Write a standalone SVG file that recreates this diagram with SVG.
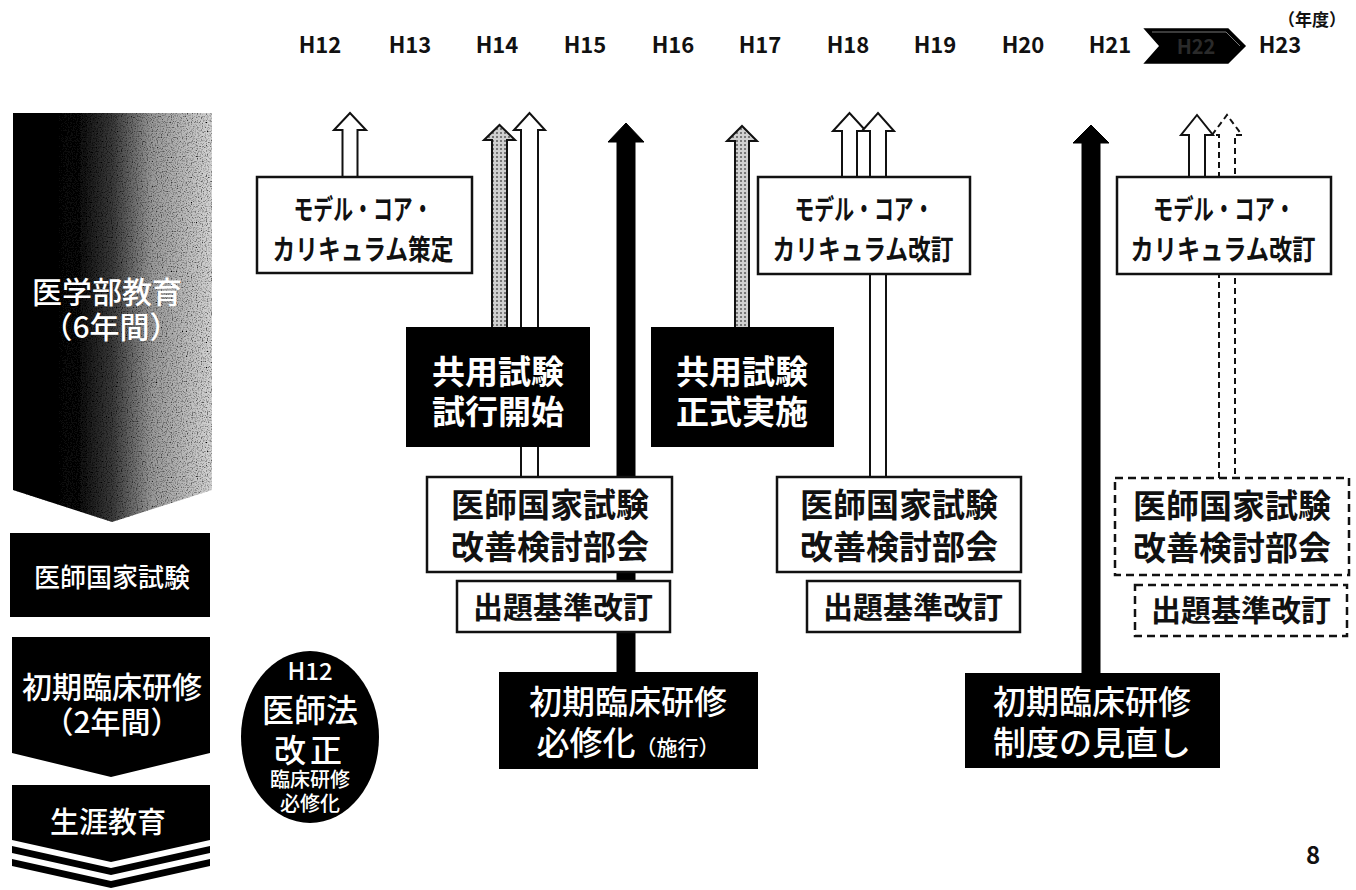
<svg xmlns="http://www.w3.org/2000/svg" width="1356" height="890" viewBox="0 0 1356 890">
<defs>
  <linearGradient id="gradMed" x1="0" y1="0" x2="1" y2="0">
    <stop offset="0" stop-color="#000"/>
    <stop offset="0.3" stop-color="#080808"/>
    <stop offset="0.5" stop-color="#3a3a3a"/>
    <stop offset="0.7" stop-color="#999"/>
    <stop offset="1" stop-color="#d4d4d4"/>
  </linearGradient>
  <filter id="speckle" x="0" y="0" width="100%" height="100%">
    <feTurbulence type="fractalNoise" baseFrequency="0.8" numOctaves="1" seed="4" result="noise"/>
    <feColorMatrix in="noise" type="matrix" values="0 0 0 0 0  0 0 0 0 0  0 0 0 0 0  0 0 0 -3 1.6" result="dots"/>
    <feComposite in="dots" in2="SourceGraphic" operator="in" result="d2"/>
    <feMerge><feMergeNode in="SourceGraphic"/><feMergeNode in="d2"/></feMerge>
  </filter>
  <pattern id="grayDots" width="4" height="4" patternUnits="userSpaceOnUse">
    <rect width="4" height="4" fill="#d0d0d0"/>
    <rect x="0" y="0" width="2" height="2" fill="#777"/>
  </pattern>
</defs>
<style>
  text { font-family: 'Noto Sans CJK JP', 'Noto Sans', sans-serif; text-anchor: middle; }
  .yr { font-size: 22px; font-weight: 700; fill: #111; }
  .wbox { fill: #fff; stroke: #111; stroke-width: 2.5; }
  .dbox { fill: #fff; stroke: #111; stroke-width: 2.5; stroke-dasharray: 8 5; }
  .bbox { fill: #000; stroke: #000; stroke-width: 2; }
  .bt { fill: #111; font-weight: 700; }
  .wt { fill: #fff; font-weight: 500; }
  .wtb { fill: #fff; font-weight: 700; }
  .ha { fill: #fff; stroke: #111; stroke-width: 2; stroke-linejoin: miter; }
  .ga { fill: url(#grayDots); stroke: #111; stroke-width: 2; }
  .ka { fill: #000; stroke: #000; stroke-width: 1; }
  .da { fill: #fff; stroke: #111; stroke-width: 2; stroke-dasharray: 6 4; }
</style>

<!-- Header -->
<g id="header">
  <text class="yr" x="1312" y="26" style="font-size:17px">（年度）</text>
  <text class="yr" x="320" y="53">H12</text>
  <text class="yr" x="410" y="53">H13</text>
  <text class="yr" x="497" y="53">H14</text>
  <text class="yr" x="585" y="53">H15</text>
  <text class="yr" x="673" y="53">H16</text>
  <text class="yr" x="760" y="53">H17</text>
  <text class="yr" x="848" y="53">H18</text>
  <text class="yr" x="935" y="53">H19</text>
  <text class="yr" x="1023" y="53">H20</text>
  <text class="yr" x="1110" y="53">H21</text>
  <g id="h22">
    <path d="M1145,29 L1228,29 L1245,46 L1228,63 L1145,63 L1160,46 Z" fill="#000" stroke="#000" stroke-width="1.5"/>
    <path d="M1152,32 L1226,32 L1240,46" fill="none" stroke="#777" stroke-width="1"/>
    <text class="yr" x="1196" y="54" style="fill:#2a2a2a;font-size:20px">H22</text>
  </g>
  <text class="yr" x="1280" y="53">H23</text>
</g>

<!-- Left column -->
<g id="med-edu">
  <path d="M13,113 L212,113 L212,490 L112,522 L13,490 Z" fill="url(#gradMed)" filter="url(#speckle)"/>
  <text class="wt" x="107" y="303" style="font-size:30px">医学部教育</text>
  <text class="wt" x="111" y="338" style="font-size:30px">（6年間）</text>
</g>
<g id="exam">
  <rect x="10" y="533" width="200" height="84" fill="#000"/>
  <text class="wt" x="112" y="587" style="font-size:26px">医師国家試験</text>
</g>
<g id="residency">
  <path d="M12,637 L210,637 L210,753 L111,777 L12,753 Z" fill="#000"/>
  <text class="wt" x="112" y="698" style="font-size:30px">初期臨床研修</text>
  <text class="wt" x="112" y="733" style="font-size:30px">（2年間）</text>
</g>
<g id="lifelong">
  <path d="M12,785 L210,785 L210,840 L111,862 L12,840 Z" fill="#000"/>
  <path d="M12,846 L111,868 L210,846 L210,853 L111,875 L12,853 Z" fill="#000"/>
  <path d="M12,859 L111,881 L210,859 L210,866 L111,888 L12,866 Z" fill="#000"/>
  <text class="wt" x="108" y="833" style="font-size:29px">生涯教育</text>
</g>
<g id="law">
  <ellipse cx="310" cy="737" rx="69" ry="86" fill="#000"/>
  <text class="wt" x="310" y="680" style="font-size:24px">H12</text>
  <text class="wt" x="310" y="722" style="font-size:32px">医師法</text>
  <text class="wt" x="310" y="762" style="font-size:32px" letter-spacing="4">改正</text>
  <text class="wt" x="310" y="787" style="font-size:20px">臨床研修</text>
  <text class="wt" x="310" y="811" style="font-size:20px">必修化</text>
</g>

<!-- Connectors -->
<g id="connectors">
  <path class="ha" d="M342.5,177 V130 H334 L350,113 L366,130 H357.5 V177 Z"/>
  <path class="ga" d="M492,328 V140 H484 L499.5,125 L515,140 H507 V328 Z"/>
  <path class="ha" d="M521,477 V130 H514 L529.5,113 L545,130 H538 V477 Z"/>
  <path class="ka" d="M617,673 V142 H608 L626,123 L644,142 H635 V673 Z"/>
  <path class="ga" d="M735,328 V141 H727 L742,126 L757,141 H749 V328 Z"/>
  <path class="ha" d="M842,177 V131 H833 L849.5,113 L866,131 H857 V177 Z"/>
  <path class="ha" d="M870,477 V131 H862 L878,113 L894,131 H886 V477 Z"/>
  <path class="ka" d="M1082,674 V143 H1073 L1091,125 L1109,143 H1100 V674 Z"/>
  <path class="da" d="M1219,478 V135 H1212 L1227,115 L1242,135 H1235 V478"/>
  <path class="ha" d="M1189,177 V135 H1181 L1197,115 L1213,135 H1205 V177 Z"/>
</g>

<!-- Nodes -->
<g id="core1">
  <rect class="wbox" x="257" y="177" width="215" height="96"/>
  <text class="bt" x="363" y="220" style="font-size:28px" textLength="139" lengthAdjust="spacingAndGlyphs">モデル・コア・</text>
  <text class="bt" x="363" y="260" style="font-size:28px" textLength="181" lengthAdjust="spacingAndGlyphs">カリキュラム策定</text>
</g>
<g id="core2">
  <rect class="wbox" x="758" y="177" width="212" height="97"/>
  <text class="bt" x="864" y="220" style="font-size:28px" textLength="139" lengthAdjust="spacingAndGlyphs">モデル・コア・</text>
  <text class="bt" x="863" y="260" style="font-size:28px" textLength="181" lengthAdjust="spacingAndGlyphs">カリキュラム改訂</text>
</g>
<g id="core3">
  <rect class="wbox" x="1117" y="177" width="214" height="97"/>
  <text class="bt" x="1224" y="220" style="font-size:28px" textLength="142" lengthAdjust="spacingAndGlyphs">モデル・コア・</text>
  <text class="bt" x="1223" y="260" style="font-size:28px" textLength="185" lengthAdjust="spacingAndGlyphs">カリキュラム改訂</text>
</g>
<g id="cbt-trial">
  <rect class="bbox" x="407" y="328" width="182" height="118"/>
  <text class="wtb" x="498" y="384" style="font-size:33px">共用試験</text>
  <text class="wtb" x="498" y="424" style="font-size:33px">試行開始</text>
</g>
<g id="cbt-formal">
  <rect class="bbox" x="652" y="328" width="181" height="118"/>
  <text class="wtb" x="742" y="384" style="font-size:33px">共用試験</text>
  <text class="wtb" x="742" y="424" style="font-size:33px">正式実施</text>
</g>
<g id="exam-committee1">
  <rect class="wbox" x="427" y="477" width="245" height="95"/>
  <text class="bt" x="550" y="517" style="font-size:33px">医師国家試験</text>
  <text class="bt" x="550" y="559" style="font-size:33px">改善検討部会</text>
</g>
<g id="criteria1">
  <rect class="wbox" x="457" y="581" width="213" height="51"/>
  <text class="bt" x="563" y="618" style="font-size:30px">出題基準改訂</text>
</g>
<g id="exam-committee2">
  <rect class="wbox" x="777" y="477" width="244" height="95"/>
  <text class="bt" x="899" y="517" style="font-size:33px">医師国家試験</text>
  <text class="bt" x="899" y="559" style="font-size:33px">改善検討部会</text>
</g>
<g id="criteria2">
  <rect class="wbox" x="807" y="581" width="213" height="51"/>
  <text class="bt" x="913" y="618" style="font-size:30px">出題基準改訂</text>
</g>
<g id="exam-committee3">
  <rect class="dbox" x="1115" y="478" width="234" height="97"/>
  <text class="bt" x="1232" y="518" style="font-size:33px">医師国家試験</text>
  <text class="bt" x="1232" y="560" style="font-size:33px">改善検討部会</text>
</g>
<g id="criteria3">
  <rect class="dbox" x="1135" y="585" width="212" height="51"/>
  <text class="bt" x="1241" y="621" style="font-size:30px">出題基準改訂</text>
</g>
<g id="residency-mandatory">
  <rect class="bbox" x="500" y="673" width="257" height="95"/>
  <text class="wt" x="628" y="714" style="font-size:33px">初期臨床研修</text>
  <text class="wt" x="628" y="755" style="font-size:33px">必修化<tspan style="font-size:21px">（施行）</tspan></text>
</g>
<g id="residency-review">
  <rect class="bbox" x="966" y="674" width="253" height="93"/>
  <text class="wt" x="1092" y="714" style="font-size:33px">初期臨床研修</text>
  <text class="wt" x="1092" y="755" style="font-size:33px">制度の見直し</text>
</g>
<text x="1313" y="864" style="font-size:24px;font-weight:700;fill:#111">8</text>
</svg>
